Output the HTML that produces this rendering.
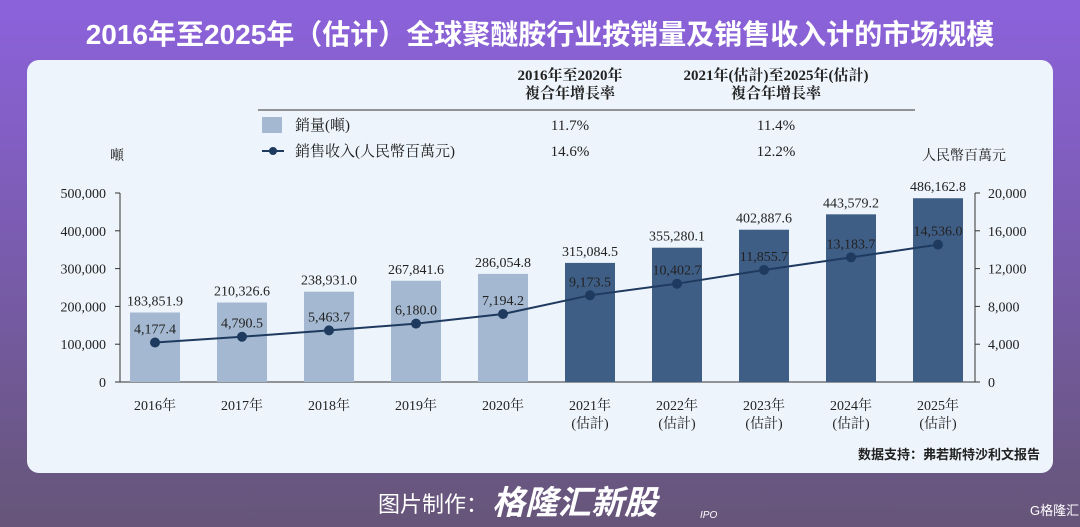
<!DOCTYPE html>
<html><head><meta charset="utf-8"><style>
body{margin:0;width:1080px;height:527px;overflow:hidden;background:linear-gradient(180deg,#8c62dc 0%,#7a5cb0 45%,#665578 100%);font-family:"Liberation Serif","Noto Serif CJK SC",serif;position:relative}
.t{position:absolute;left:0;width:1080px;text-align:center;top:13px;color:#fff;font:bold 28px "Liberation Sans","Noto Sans CJK SC",sans-serif;white-space:nowrap}
.panel{position:absolute;left:27px;top:60px;width:1026px;height:413px;background:#eef4fb;border-radius:12px}
svg{position:absolute;left:0;top:0}
</style></head><body>
<div class="t">2016年至2025年（估计）全球聚醚胺行业按销量及销售收入计的市场规模</div>
<div class="panel"></div>
<svg id="c" width="1080" height="527"></svg>
<script>
const categories=["2016年","2017年","2018年","2019年","2020年","2021年","2022年","2023年","2024年","2025年"];
const volume=[183851.9,210326.6,238931.0,267841.6,286054.8,315084.5,355280.1,402887.6,443579.2,486162.8];
const revenue=[4177.4,4790.5,5463.7,6180.0,7194.2,9173.5,10402.7,11855.7,13183.7,14536.0];
const leftTicks=[0,100000,200000,300000,400000,500000];
const rightTicks=[0,4000,8000,12000,16000,20000];
const estimated=[false,false,false,false,false,true,true,true,true,true];
const svg=document.getElementById('c');const NS='http://www.w3.org/2000/svg';
function mk(t,a,txt){const e=document.createElementNS(NS,t);for(const k in a)e.setAttribute(k,a[k]);if(txt!=null)e.textContent=txt;svg.appendChild(e);return e;}
const y0=382,y1=193;
const yL=v=>y0-(v/500000)*(y0-y1);
const yR=v=>y0-(v/20000)*(y0-y1);
const xC=i=>155+i*87;
const F='"Liberation Serif","Noto Serif CJK SC",serif';
let e=mk('line',{x1:120,y1:y0,x2:975,y2:y0,stroke:'#333','stroke-width':1});

e=mk('line',{x1:120,y1:y1,x2:120,y2:y0,stroke:'#333'});

e=mk('line',{x1:975,y1:y1,x2:975,y2:y0,stroke:'#333'});

leftTicks.forEach(v=>{const t=mk('text',{x:106,y:yL(v)+5,'text-anchor':'end','font-size':14,'font-family':F,fill:'#222'},v.toLocaleString('en-US'));

mk('line',{x1:115,x2:120,y1:yL(v),y2:yL(v),stroke:'#333'});});
rightTicks.forEach(v=>{const t=mk('text',{x:988,y:yR(v)+5,'font-size':14,'font-family':F,fill:'#222'},v.toLocaleString('en-US'));

mk('line',{x1:975,x2:980,y1:yR(v),y2:yR(v),stroke:'#333'});});
e=mk('text',{x:110,y:160,'font-size':14,'font-family':F,fill:'#222'},'噸');
e=mk('text',{x:922,y:160,'font-size':14,'font-family':F,fill:'#222'},'人民幣百萬元');
volume.forEach((v,i)=>{const b=mk('rect',{x:xC(i)-25,y:yL(v),width:50,height:y0-yL(v),fill:estimated[i]?'#3f5e86':'#a4b9d1'});

const t=mk('text',{x:xC(i),y:yL(v)-7,'text-anchor':'middle','font-size':14,'font-family':F,fill:'#222'},v.toLocaleString('en-US',{minimumFractionDigits:1}));

const c=mk('text',{x:xC(i),y:410,'text-anchor':'middle','font-size':14,'font-family':F,fill:'#222'},categories[i]);

if(estimated[i]){const c2=mk('text',{x:xC(i),y:428,'text-anchor':'middle','font-size':14,'font-family':F,fill:'#222'},'(估計)');
}});
const pl=mk('polyline',{points:revenue.map((v,i)=>xC(i)+','+yR(v)).join(' '),fill:'none',stroke:'#1f3a5f','stroke-width':2});

revenue.forEach((v,i)=>{const p=mk('circle',{cx:xC(i),cy:yR(v),r:5,fill:'#1f3a5f'});

const t=mk('text',{x:xC(i),y:yR(v)-9,'text-anchor':'middle','font-size':14,'font-family':F,fill:'#222'},v.toLocaleString('en-US',{minimumFractionDigits:1}));
});
const T=(x,y,s,a,w)=>{const t=mk('text',{x:x,y:y,'text-anchor':a||'start','font-size':15,'font-family':F,fill:'#222','font-weight':w||'normal'},s);return t;};
e=T(570,80,'2016年至2020年','middle','bold');
T(570,98,'複合年增長率','middle','bold');
e=T(776,80,'2021年(估計)至2025年(估計)','middle','bold');
T(776,98,'複合年增長率','middle','bold');
mk('line',{x1:258,x2:915,y1:110,y2:110,stroke:'#333'});
e=mk('rect',{x:262,y:117,width:20,height:16,fill:'#a4b9d1'});
e=T(295,130,'銷量(噸)');
T(570,130,'11.7%','middle');T(776,130,'11.4%','middle');
mk('line',{x1:262,x2:284,y1:151,y2:151,stroke:'#1f3a5f','stroke-width':2});mk('circle',{cx:273,cy:151,r:4,fill:'#1f3a5f'});
e=T(295,156,'銷售收入(人民幣百萬元)');
T(570,156,'14.6%','middle');T(776,156,'12.2%','middle');
e=mk('text',{x:1040,y:459,'text-anchor':'end','font-size':13,'font-family':'"Liberation Sans","Noto Sans CJK SC",sans-serif',fill:'#222','font-weight':'bold'},'数据支持：弗若斯特沙利文报告');

e=mk('text',{x:378,y:512,'font-size':22,'font-family':'"Liberation Sans","Noto Sans CJK SC",sans-serif',fill:'#fff'},'图片制作：');

e=mk('text',{x:492,y:514,'font-size':33,'font-weight':'bold','font-style':'italic','font-family':'"Liberation Sans","Noto Sans CJK SC",sans-serif',fill:'#fff'},'格隆汇新股');

mk('text',{x:700,y:518,'font-size':10,'font-style':'italic','font-family':'"Liberation Sans",sans-serif',fill:'#fff'},'IPO');
e=mk('text',{x:1030,y:515,'font-size':13,'font-family':'"Liberation Sans","Noto Sans CJK SC",sans-serif',fill:'#fff'},'G格隆汇');

</script>
</body></html>
